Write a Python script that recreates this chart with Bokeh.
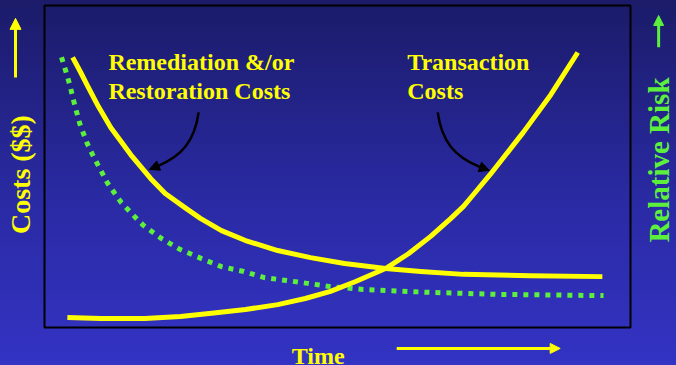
from bokeh.plotting import figure
from bokeh.models import Arrow, NormalHead, Range1d
from bokeh.core.properties import value
from bokeh.embed import file_html
from bokeh.resources import INLINE

# Conceptual chart: time runs 0..100 across the framed panel,
# costs / relative risk run 0..100 from bottom to top.
TIME_MAX = 100
LEVEL_MAX = 100

# Remediation &/or restoration costs (falls off over time)
remed_time = [4.8, 6.1, 7.3, 9.2, 11.3, 14.7, 18.1, 20.6, 23.9, 26.6,
              30.2, 34.3, 39.8, 45.4, 51.2, 58.2, 64.2, 71.5, 82.9, 95.2]
remed_cost = [83.9, 79.5, 75.2, 68.6, 62.1, 53.7, 46.3, 41.6, 37.3, 33.9,
              30.1, 27.0, 23.9, 21.7, 19.9, 18.3, 17.4, 16.5, 16.1, 15.8]

# Relative risk (dotted green)
risk_time = [2.9, 3.6, 4.3, 5.0, 6.0, 7.3, 8.2, 9.0, 9.9, 10.8, 12.0, 13.1,
             15.5, 16.9, 20.0, 23.2, 26.8, 30.2, 34.0, 37.5, 41.3, 44.9,
             48.8, 54.4, 65.9, 77.3, 95.4]
risk_level = [83.9, 79.8, 75.5, 70.2, 63.4, 57.1, 53.7, 50.9, 47.8, 44.7,
              41.6, 38.8, 34.2, 31.7, 27.6, 24.2, 21.4, 18.9, 17.4, 15.5,
              14.6, 13.7, 12.7, 11.8, 10.9, 10.3, 9.9]

# Transaction costs (rises over time)
trans_time = [3.9, 9.6, 17.1, 23.2, 28.5, 34.3, 39.8, 44.5, 48.8, 53.1,
              58.2, 62.1, 65.9, 69.3, 71.5, 73.2, 76.1, 81.7, 86.4, 91.0]
trans_cost = [3.1, 2.8, 2.8, 3.4, 4.4, 5.6, 7.1, 9.0, 11.2, 14.3,
              18.3, 22.9, 28.3, 33.8, 37.6, 41.3, 47.6, 60.6, 72.3, 85.4]

YELLOW = "#ffff00"
GREEN = "#5cf03c"
FONT = value("Liberation Serif")

p = figure(width=676, height=365, output_backend="svg", toolbar_location=None,
           x_range=Range1d(-7.51, 107.85), y_range=Range1d(-11.80, 101.55),
           x_axis_type=None, y_axis_type=None, min_border=0)
p.outline_line_color = None
p.background_fill_alpha = 0
p.border_fill_alpha = 0
p.styles = {"background": "linear-gradient(to bottom, #1b1b69 0%, #2a2aa4 55%, #3333c4 100%)"}

# framed panel
p.quad(left=[0], right=[TIME_MAX], bottom=[0], top=[LEVEL_MAX],
       fill_alpha=0, line_color="black", line_width=2)

# curves
p.line(risk_time, risk_level, line_color=GREEN, line_width=5, line_dash="5 6")
p.line(remed_time, remed_cost, line_color=YELLOW, line_width=5, line_join="round")
p.line(trans_time, trans_cost, line_color=YELLOW, line_width=5, line_join="round")

# callout labels
p.text(x=[10.9, 10.9, 61.9, 61.9], y=[82.6, 73.3, 82.6, 73.3],
       text=["Remediation &/or", "Restoration Costs", "Transaction", "Costs"],
       text_font=FONT, text_font_style="bold", text_font_size="24px",
       text_color=YELLOW, text_baseline="alphabetic", text_align="left")

# curved callout pointers
p.bezier(x0=[26.3, 67.1], y0=[66.8, 66.8], x1=[19.5, 74.1], y1=[50.3, 50.0],
         cx0=[25.6, 67.8], cy0=[57.5, 57.5], cx1=[23.2, 70.1], cy1=[53.1, 53.1],
         line_color="black", line_width=2.5)
for xs, ys, xe, ye in [(19.5, 50.3, 17.9, 49.1), (74.1, 50.0, 75.9, 48.8)]:
    p.add_layout(Arrow(x_start=xs, y_start=ys, x_end=xe, y_end=ye,
                       line_color="black", line_width=2.5,
                       end=NormalHead(size=10, fill_color="black", line_color="black")))

# axis titles
p.text(x=[-4.1], y=[47.5], text=["Costs ($$)"], angle=1.5708,
       text_font=FONT, text_font_style="bold", text_font_size="28px",
       text_color=YELLOW, text_baseline="middle", text_align="center")
p.text(x=[104.9], y=[52.0], text=["Relative Risk"], angle=1.5708,
       text_font=FONT, text_font_style="bold", text_font_size="29px",
       text_color=GREEN, text_baseline="middle", text_align="center")
p.text(x=[42.2], y=[-8.8], text=["Time"],
       text_font=FONT, text_font_style="bold", text_font_size="24px",
       text_color=YELLOW, text_baseline="alphabetic", text_align="left")

# direction arrows beside the titles
p.add_layout(Arrow(x_start=-4.95, y_start=77.6, x_end=-4.95, y_end=96.0,
                   line_color=YELLOW, line_width=3,
                   end=NormalHead(size=11, fill_color=YELLOW, line_color=YELLOW)))
p.add_layout(Arrow(x_start=104.8, y_start=87.0, x_end=104.8, y_end=96.9,
                   line_color=GREEN, line_width=3,
                   end=NormalHead(size=10, fill_color=GREEN, line_color=GREEN)))
p.add_layout(Arrow(x_start=60.1, y_start=-6.5, x_end=88.0, y_end=-6.5,
                   line_color=YELLOW, line_width=3,
                   end=NormalHead(size=10, fill_color=YELLOW, line_color=YELLOW)))

open("out.html", "w").write(file_html(p, INLINE))
